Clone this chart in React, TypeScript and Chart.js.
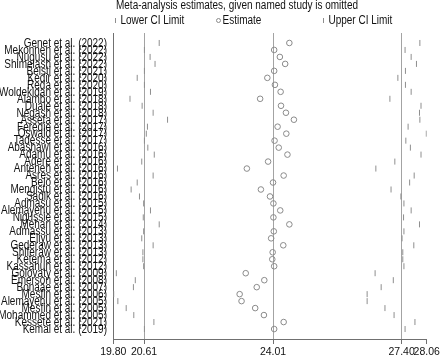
import React, { useEffect, useRef } from "react";
import { Chart, registerables } from "chart.js";

Chart.register(...registerables);

const studies = [
  "Genet et al. (2022)", "Mekonnen et al. (2022)", "Nugusu et al. (2022)", "Shimelash et al. (2022)",
  "Belsti et al. (2021)", "Kedir et al. (2020)", "Reda et al. (2020)", "Woldekidan et al. (2019)",
  "Alambo et al. (2018)", "Duale et al. (2018)", "Negash et al. (2018)", "Assefa et al. (2017)",
  "Feredie et al. (2017)", "Oswald et al. (2017)", "Tadesse et al. (2017)", "Abashawl et al. (2016)",
  "Adamu et al. (2016)", "Adere et al. (2016)", "Anteneh et al. (2016)", "Asres et al. (2016)",
  "Belo et al. (2016)", "Mengistu et al. (2016)", "Sadik et al. (2016)", "Admasu et al. (2015)",
  "Alemayehu et al. (2015)", "Nigussie et al. (2015)", "Mehari et al. (2014)", "Admassu et al. (2013)",
  "Eliyu et al. (2013)", "Gederaw et al. (2013)", "Shiferaw et al. (2013)", "Ketema et al. (2012)",
  "Kassahun et al. (2012)", "Golovaty et al. (2009)", "Emerson et al. (2008)", "Bonaae et al. (2007)",
  "Mesfin et al. (2006)", "Alemayehu et al. (2005)", "Mesfin et al. (2005)", "Mohammed et al. (2005)",
  "Kessete et al. (2021)", "Kemal et al. (2019)"
];

const lowerCI = [
  21.01, 20.62, 20.77, 20.90, 20.62, 20.43, 20.62, 20.78, 20.24, 20.56, 20.85, 21.23,
  20.70, 20.67, 20.62, 20.71, 20.88, 20.55, 19.91, 20.85, 20.43, 20.27, 20.49, 20.60,
  20.78, 20.59, 21.01, 20.60, 20.55, 20.85, 20.58, 20.58, 20.60, 19.88, 20.38, 20.33,
  19.81, 19.92, 20.14, 20.34, 20.87, 20.62
];

const estimates = [
  24.44, 24.04, 24.19, 24.33, 24.04, 23.86, 24.06, 24.21, 23.67, 24.22, 24.35, 24.56,
  24.13, 24.36, 24.05, 24.16, 24.39, 23.88, 23.32, 24.29, 24.01, 23.69, 23.93, 24.02,
  24.20, 24.02, 24.44, 24.03, 23.96, 24.28, 24.00, 23.99, 24.04, 23.29, 23.78, 23.58,
  23.13, 23.18, 23.54, 23.77, 24.29, 24.04
];

const upperCI = [
  27.88, 27.49, 27.65, 27.79, 27.50, 27.30, 27.50, 27.65, 27.09, 27.91, 27.87, 27.88,
  27.57, 28.05, 27.51, 27.63, 27.91, 27.22, 26.72, 27.73, 27.61, 27.12, 27.38, 27.46,
  27.65, 27.45, 27.87, 27.46, 27.41, 27.72, 27.43, 27.43, 27.46, 26.70, 27.18, 26.86,
  26.49, 26.49, 26.96, 27.20, 27.75, 27.49
];

const xTicks = [19.8, 20.61, 24.01, 27.4, 28.06];
const refLines = [20.61, 24.01, 27.4];
const titleText = "Meta-analysis estimates, given named study is omitted";
const legendLabels = ["Lower CI Limit", "Estimate", "Upper CI Limit"];

const MARK = "#8e8e8e";
const CIRCLE = "#8a8a8a";
const REF = "#a3a3a3";
const AXIS = "#707070";
const TEXT = "#111111";
const FONT = '12px "Liberation Sans", Arial, sans-serif';

export default function App() {
  const ref = useRef<HTMLCanvasElement | null>(null);

  useEffect(() => {
    const canvas = ref.current;
    if (!canvas) return;
    const mctx = document.createElement("canvas").getContext("2d")!;
    mctx.font = FONT;
    const sx = 242 / mctx.measureText(titleText).width;

    const drawText = (
      ctx: CanvasRenderingContext2D,
      text: string,
      x: number,
      y: number,
      align: CanvasTextAlign
    ) => {
      ctx.save();
      ctx.textAlign = align;
      ctx.textBaseline = "middle";
      ctx.fillStyle = TEXT;
      ctx.font = FONT;
      ctx.translate(x, y);
      ctx.scale(sx, 1);
      ctx.fillText(text, 0, 0);
      ctx.restore();
    };

    const decor = {
      id: "decor",
      afterDraw(chart: any) {
        const ctx: CanvasRenderingContext2D = chart.ctx;
        const yScale = chart.scales.y;
        drawText(ctx, titleText, 116, 5.5, "left");
        const ly = 20.5;
        ctx.save();
        ctx.strokeStyle = MARK;
        ctx.lineWidth = 1;
        ctx.beginPath();
        ctx.moveTo(115.5, ly - 2.5);
        ctx.lineTo(115.5, ly + 2.5);
        ctx.moveTo(323.5, ly - 2.5);
        ctx.lineTo(323.5, ly + 2.5);
        ctx.stroke();
        ctx.strokeStyle = CIRCLE;
        ctx.beginPath();
        ctx.arc(218.5, ly, 2, 0, Math.PI * 2);
        ctx.stroke();
        ctx.restore();
        drawText(ctx, legendLabels[0], 120.5, ly, "left");
        drawText(ctx, legendLabels[1], 222.5, ly, "left");
        drawText(ctx, legendLabels[2], 328.5, ly, "left");
        studies.forEach((s, i) => {
          drawText(ctx, s, 107, yScale.getPixelForValue(i) + 0.5, "right");
        });
      },
    };

    const chart = new Chart(canvas, {
      type: "scatter",
      data: {
        datasets: [
          {
            label: legendLabels[0],
            data: lowerCI.map((v, i) => ({ x: v, y: i })),
            pointStyle: "line",
            rotation: 90,
            radius: 3,
            borderColor: MARK,
            backgroundColor: MARK,
            borderWidth: 1,
          },
          {
            label: legendLabels[1],
            data: estimates.map((v, i) => ({ x: v, y: i })),
            pointStyle: "circle",
            radius: 2.8,
            borderColor: CIRCLE,
            backgroundColor: "rgba(0,0,0,0)",
            borderWidth: 1,
          },
          {
            label: legendLabels[2],
            data: upperCI.map((v, i) => ({ x: v, y: i })),
            pointStyle: "line",
            rotation: 90,
            radius: 3,
            borderColor: MARK,
            backgroundColor: MARK,
            borderWidth: 1,
          },
        ],
      },
      options: {
        responsive: false,
        animation: false,
        events: [],
        layout: { padding: { left: 0, right: 13.3, top: 33, bottom: 0 } },
        plugins: {
          legend: { display: false },
          title: { display: false },
          tooltip: { enabled: false },
        },
        scales: {
          x: {
            type: "linear",
            min: 19.8,
            max: 28.06,
            afterBuildTicks: (s: any) => {
              s.ticks = xTicks.map((v) => ({ value: v }));
            },
            afterFit: (s: any) => {
              s.paddingLeft = 0;
              s.paddingRight = 0;
              s.height = 18;
            },
            grid: {
              display: true,
              drawTicks: true,
              tickLength: 5,
              color: (c: any) =>
                c.tick && refLines.includes(c.tick.value) ? REF : "rgba(0,0,0,0)",
              tickColor: AXIS,
              lineWidth: 1,
            },
            border: { display: true, color: AXIS, width: 1 },
            ticks: {
              autoSkip: false,
              maxRotation: 0,
              minRotation: 0,
              padding: 2,
              color: TEXT,
              font: { family: "Liberation Sans", size: 10.5 },
              callback: (v: any) => Number(v).toFixed(2),
            },
          },
          y: {
            type: "linear",
            reverse: true,
            min: -1.43,
            max: 42.43,
            afterFit: (s: any) => {
              s.width = 113.3;
            },
            grid: { display: false },
            border: { display: true, color: AXIS, width: 1 },
            ticks: { display: false },
          },
        },
      },
      plugins: [decor],
    });
    return () => chart.destroy();
  }, []);

  return (
    <div style={{ position: "fixed", left: 0, top: 0, width: 440, height: 357, background: "#fff" }}>
      <canvas ref={ref} width={440} height={357} style={{ display: "block" }} />
    </div>
  );
}
